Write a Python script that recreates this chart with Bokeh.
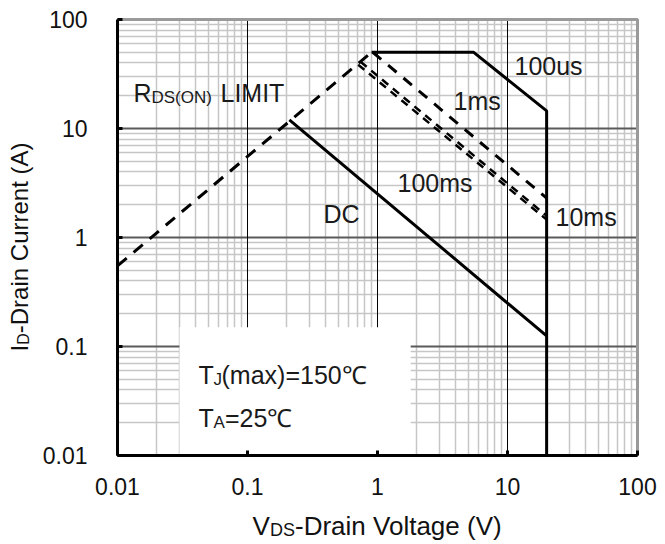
import math
from bokeh.plotting import figure
from bokeh.models import FixedTicker, Label, Range1d, Grid
from bokeh.embed import file_html
from bokeh.resources import INLINE

# ---------------- data ----------------
rds_v = [0.01, 0.9]
rds_i = [0.55, 50]
us100_v = [0.9, 5.5, 20, 20]
us100_i = [50, 50, 14.5, 0.01]
ms1_v = [0.92, 20]
ms1_i = [50, 2.3]
ms10_v = [0.74, 20]
ms10_i = [41, 1.58]
ms100_v = [0.71, 20]
ms100_i = [38.5, 1.46]
dc_v = [0.21, 20]
dc_i = [12, 0.125]
box_v = [0.03, 1.8]
box_i = [0.01, 0.15]

x_ticks = [0.01, 0.1, 1, 10, 100]
x_tick_labels = ["0.01", "0.1", "1", "10", "100"]
y_ticks = [0.01, 0.1, 1, 10, 100]
y_tick_labels = ["0.01", "0.1", "1", "10", "100"]
minor_ticks = [m * 10 ** e for e in range(-2, 2) for m in range(2, 10)]

FONT = "Liberation Sans"
W, H = 665, 544
# plot area inside the canvas (pixels): left 117, right 637, top 19, bottom 455
XL, XPD = 117, 130.0   # px of 0.01 and px per decade
YT, YPD = 19, 109.0    # px of 100 and px per decade

x_range = Range1d(10 ** (-2 - XL / XPD), 10 ** (-2 + (W - XL) / XPD))
y_range = Range1d(10 ** (2 - (H - YT) / YPD), 10 ** (2 + YT / YPD))

p = figure(x_axis_type="log", y_axis_type="log",
           x_range=x_range, y_range=y_range,
           frame_width=W, frame_height=H, min_border=0,
           output_backend="svg", toolbar_location=None,
           background_fill_color="white", border_fill_color="white")
p.outline_line_color = None

xticker = FixedTicker(ticks=x_ticks, minor_ticks=minor_ticks)
yticker = FixedTicker(ticks=y_ticks, minor_ticks=minor_ticks)
p.xaxis.ticker = xticker
p.yaxis.ticker = yticker
p.xaxis.major_label_overrides = {float(t): l for t, l in zip(x_ticks, x_tick_labels)}
p.yaxis.major_label_overrides = {float(t): l for t, l in zip(y_ticks, y_tick_labels)}
p.xaxis.fixed_location = 0.01
p.yaxis.fixed_location = 0.01
p.xaxis.bounds = (0.01, 100)
p.yaxis.bounds = (0.01, 100)

# grids: all minor lines first, then horizontal majors, then vertical majors on top
p.center = [r for r in p.center if not isinstance(r, Grid)]
MINOR = "#c6c6c6"
gx_minor = Grid(dimension=0, ticker=xticker, grid_line_color=None,
                minor_grid_line_color=MINOR, minor_grid_line_width=1.5)
gy_minor = Grid(dimension=1, ticker=yticker, grid_line_color=None,
                minor_grid_line_color=MINOR, minor_grid_line_width=1.5)
gy_major = Grid(dimension=1, ticker=yticker, grid_line_color="#5a5a5a",
                grid_line_width=2)
gx_major = Grid(dimension=0, ticker=xticker, grid_line_color="black",
                grid_line_width=1)
grids = [gx_minor, gy_minor, gy_major, gx_major]
has_cross = "cross_bounds" in gx_major.properties()
for g in grids:
    if has_cross:
        g.cross_bounds = (0.01, 100)
p.center = grids + list(p.center)

for ax in (p.xaxis, p.yaxis):
    ax.axis_line_width = 3
    ax.axis_line_color = "black"
    ax.major_tick_in = 5
    ax.major_tick_out = 0
    ax.major_tick_line_width = 3
    ax.minor_tick_line_color = None
    ax.major_label_text_font = FONT
    ax.major_label_text_font_size = "23px"
    ax.major_label_text_color = "#111111"
p.xaxis.major_label_standoff = 18
p.yaxis.major_label_standoff = 26

if not has_cross:
    # hide grid lines outside the plot area
    lo_x, hi_x = x_range.start, x_range.end
    lo_y, hi_y = y_range.start, y_range.end
    p.quad(left=[lo_x, 100, lo_x, lo_x], right=[0.01, hi_x, hi_x, hi_x],
           bottom=[lo_y, lo_y, lo_y, 100], top=[hi_y, hi_y, 0.01, hi_y],
           fill_color="white", line_color=None)

# white box behind the temperature note
p.quad(left=box_v[0], right=box_v[1], bottom=box_i[0], top=box_i[1],
       fill_color="white", line_color=None)

# grey top / right border of the plot area
p.line([0.01, 100, 100], [100, 100, 0.01], line_color="#9a9a9a", line_width=3)

# curves
p.line(rds_v, rds_i, line_color="black", line_width=3, line_dash="12 9")
p.line(ms1_v, ms1_i, line_color="black", line_width=3, line_dash="11 9")
p.line(ms10_v, ms10_i, line_color="black", line_width=2.5, line_dash="8 6")
p.line(ms100_v, ms100_i, line_color="black", line_width=2.5, line_dash="8 6")
p.line(us100_v, us100_i, line_color="black", line_width=3)
p.line(dc_v, dc_i, line_color="black", line_width=3)


# text positions given in picture pixels, mapped to data space
def fx(px):
    return 10 ** ((px - XL) / XPD - 2)


def fy(py):
    return 10 ** (2 - (py - YT) / YPD)


def lab(text, px, py, size, angle=0.0, color="#1a1a1a"):
    p.add_layout(Label(x=fx(px), y=fy(py), text=text, text_font=FONT,
                       text_font_size=f"{size}px", text_color=color,
                       text_align="left", text_baseline="alphabetic",
                       angle=angle))


A = 25
S = 17
lab("R", 133, 92, A)
lab("DS(ON)", 151, 97, S)
lab("LIMIT", 220, 92, A)
lab("100us", 514, 65, A)
lab("1ms", 453, 100, A)
lab("100ms", 397, 182, A)
lab("DC", 323, 213, A)
lab("10ms", 555, 216, A)

lab("T", 198, 374, A)
lab("J", 213, 379, S)
lab("(max)=150℃", 221, 374, A)
lab("T", 198, 417, A)
lab("A", 213, 422, S)
lab("=25℃", 224.5, 417, A)

# axis titles
lab("V", 252, 525, 26, color="#111111")
lab("DS", 269.5, 529, 18, color="#111111")
lab("-Drain Voltage (V)", 294.5, 525, 26, color="#111111")

lab("I", 19, 351, 24, angle=math.pi / 2, color="#111111")
lab("D", 23, 344.3, 16, angle=math.pi / 2, color="#111111")
lab("-Drain Current (A)", 19, 332.7, 24, angle=math.pi / 2, color="#111111")

open("out.html", "w").write(file_html(p, INLINE))
